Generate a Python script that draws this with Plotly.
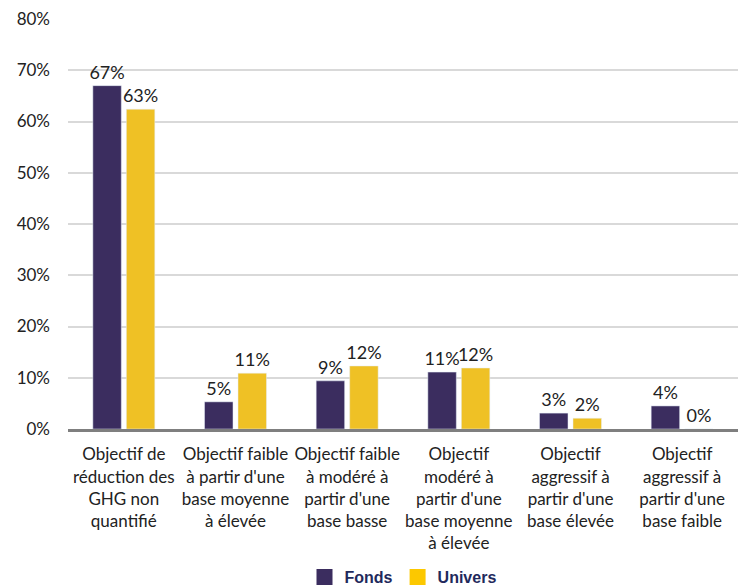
import plotly.graph_objects as go

categories = [
    "Objectif de<br>réduction des<br>GHG non<br>quantifié",
    "Objectif faible<br>à partir d'une<br>base moyenne<br>à élevée",
    "Objectif faible<br>à modéré à<br>partir d'une<br>base basse",
    "Objectif<br>modéré à<br>partir d'une<br>base moyenne<br>à élevée",
    "Objectif<br>aggressif à<br>partir d'une<br>base élevée",
    "Objectif<br>aggressif à<br>partir d'une<br>base faible",
]
fonds = [0.67, 0.053, 0.094, 0.111, 0.031, 0.045]
univers = [0.624, 0.109, 0.123, 0.119, 0.021, 0.0]
fonds_labels = ["67%", "5%", "9%", "11%", "3%", "4%"]
univers_labels = ["63%", "11%", "12%", "12%", "2%", "0%"]
tick_vals = [0, 0.1, 0.2, 0.3, 0.4, 0.5, 0.6, 0.7, 0.8]

FONT = "Lato, 'Open Sans', sans-serif"
C_FONDS = "#3b2d5f"
C_UNIV = "#efc125"

fig = go.Figure()
fig.add_trace(go.Bar(
    name="Fonds", x=categories, y=fonds, text=fonds_labels,
    textposition="outside", cliponaxis=False, constraintext="none",
    marker=dict(color=C_FONDS), showlegend=False,
    textfont=dict(family=FONT, size=18, color="#222222"),
))
fig.add_trace(go.Bar(
    name="Univers", x=categories, y=univers, text=univers_labels,
    textposition="outside", cliponaxis=False, constraintext="none",
    marker=dict(color=C_UNIV), showlegend=False,
    textfont=dict(family=FONT, size=18, color="#222222"),
))
# legend-only entries with larger square swatches
for name, col in [("Fonds", C_FONDS), ("Univers", "#fcc800")]:
    fig.add_trace(go.Scatter(
        name=name, x=[None], y=[None], mode="markers",
        marker=dict(symbol="square", size=20, color=col),
        showlegend=True,
    ))

fig.update_layout(
    width=747, height=585,
    margin=dict(l=68, r=9, t=19, b=156, autoexpand=False),
    paper_bgcolor="white", plot_bgcolor="white",
    barmode="group", bargap=0.4, bargroupgap=0.15,
    font=dict(family=FONT, size=15, color="#222222"),
    showlegend=True,
    legend=dict(
        orientation="h", x=0.5, xanchor="center", y=-0.361, yanchor="middle",
        font=dict(family="'Liberation Sans', Arial, sans-serif", size=16, color="#1f2a5c", weight="bold"),
        itemwidth=30, tracegroupgap=0,
    ),
)
fig.update_yaxes(
    range=[0, 0.8], tickvals=tick_vals, tickformat=".0%",
    showgrid=True, gridcolor="#d9d9d9", gridwidth=2,
    zeroline=False, showline=False, automargin=False,
    tickfont=dict(family=FONT, size=17, color="#222222"),
    ticklabelstandoff=17,
)
fig.update_xaxes(
    showline=True, linecolor="#7f7f7f", linewidth=3, automargin=False,
    tickfont=dict(family=FONT, size=17, color="#222222"),
    tickangle=0, ticks="", ticklabelstandoff=8,
)

fig.write_html("out.html")
